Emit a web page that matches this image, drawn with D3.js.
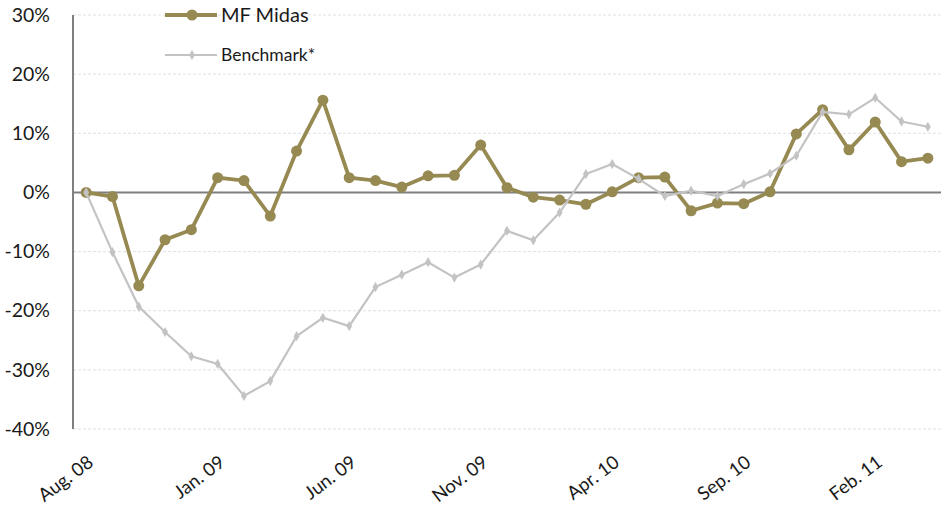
<!DOCTYPE html>
<html>
<head>
<meta charset="utf-8">
<script src="https://cdn.jsdelivr.net/npm/d3@7"></script>
<style>
  body { margin: 0; background: #fff; }
  svg { display: block; font-family: Lato, "Open Sans", sans-serif; }
</style>
</head>
<body>
<div id="chart"></div>
<script>
// monthly categories Aug 08 .. Apr 11
var months = ["Aug. 08","Sep. 08","Oct. 08","Nov. 08","Dec. 08",
  "Jan. 09","Feb. 09","Mar. 09","Apr. 09","May. 09","Jun. 09","Jul. 09","Aug. 09","Sep. 09","Oct. 09","Nov. 09","Dec. 09",
  "Jan. 10","Feb. 10","Mar. 10","Apr. 10","May. 10","Jun. 10","Jul. 10","Aug. 10","Sep. 10","Oct. 10","Nov. 10","Dec. 10",
  "Jan. 11","Feb. 11","Mar. 11","Apr. 11"];

// labels shown on the x axis
var tickLabels = ["Aug. 08","Jan. 09","Jun. 09","Nov. 09","Apr. 10","Sep. 10","Feb. 11"];

// cumulative performance, in %
var midas = [0, -0.7, -15.8, -8.0, -6.3, 2.5, 2.0, -4.0, 7.0, 15.6, 2.5, 2.0, 0.9, 2.8, 2.9, 8.0, 0.8,
  -0.8, -1.3, -2.0, 0.1, 2.5, 2.6, -3.1, -1.8, -1.9, 0.1, 9.9, 14.0, 7.2, 11.9, 5.2, 5.8];

var benchmark = [0, -10.1, -19.3, -23.6, -27.7, -29.0, -34.4, -31.9, -24.3, -21.2, -22.6, -16.0, -13.9, -11.8, -14.4, -12.2, -6.5,
  -8.1, -3.4, 3.1, 4.8, 2.3, -0.6, 0.3, -0.6, 1.4, 3.2, 6.2, 13.6, 13.2, 16.0, 12.0, 11.1];

var yTicks = [-40, -30, -20, -10, 0, 10, 20, 30];

var width = 941, height = 508;
var margin = {top: 15, right: 0, bottom: 79, left: 73};

var svg = d3.select("#chart").append("svg")
  .attr("width", width)
  .attr("height", height);

var x = d3.scaleBand()
  .domain(months)
  .range([margin.left, width - margin.right]);

var y = d3.scaleLinear()
  .domain([-40, 30])
  .range([height - margin.bottom, margin.top]);

function cx(d, i) { return x(months[i]) + x.bandwidth() / 2; }

// gridlines
svg.append("g")
  .selectAll("line")
  .data(yTicks)
  .enter().append("line")
  .attr("x1", margin.left)
  .attr("x2", width - margin.right)
  .attr("y1", function(d) { return y(d); })
  .attr("y2", function(d) { return y(d); })
  .attr("stroke", "#e0e0e0")
  .attr("stroke-dasharray", "3,2")
  .attr("stroke-width", 1);

// y axis labels
var yAxis = d3.axisLeft(y)
  .tickValues(yTicks)
  .tickSize(0)
  .tickPadding(23)
  .tickFormat(function(d) { return d + "%"; });

svg.append("g")
  .attr("transform", "translate(" + margin.left + ",0)")
  .call(yAxis)
  .call(function(g) {
    g.select(".domain").remove();
    g.selectAll("text")
      .attr("font-size", "19.5px")
      .attr("fill", "#1a1a1a")
      .attr("font-family", "Lato, 'Open Sans', sans-serif");
  });

// vertical axis line
svg.append("line")
  .attr("x1", margin.left).attr("x2", margin.left)
  .attr("y1", y(30)).attr("y2", y(-40))
  .attr("stroke", "#7f7f7f")
  .attr("stroke-width", 2);

// zero line
svg.append("line")
  .attr("x1", margin.left).attr("x2", width - margin.right)
  .attr("y1", y(0)).attr("y2", y(0))
  .attr("stroke", "#7f7f7f")
  .attr("stroke-width", 2);

// x axis labels (rotated)
var xAxis = d3.axisBottom(x)
  .tickValues(tickLabels)
  .tickSize(0)
  .tickPadding(0);

svg.append("g")
  .attr("transform", "translate(0," + (y(-40) + 34) + ")")
  .call(xAxis)
  .call(function(g) {
    g.select(".domain").remove();
    g.selectAll("text")
      .attr("font-size", "18.5px")
      .attr("fill", "#1a1a1a")
      .attr("font-family", "Lato, 'Open Sans', sans-serif")
      .attr("text-anchor", "end")
      .attr("dx", "0.3em")
      .attr("dy", "0.35em")
      .attr("transform", "rotate(-37)");
  });

var line = d3.line()
  .x(cx)
  .y(function(d) { return y(d); });

var gold = "#968a52", grey = "#c3c3c3";

// MF Midas
svg.append("path")
  .datum(midas)
  .attr("d", line)
  .attr("fill", "none")
  .attr("stroke", gold)
  .attr("stroke-width", 3.8)
  .attr("stroke-linejoin", "round");

svg.append("g")
  .selectAll("circle")
  .data(midas)
  .enter().append("circle")
  .attr("cx", cx)
  .attr("cy", function(d) { return y(d); })
  .attr("r", 5.5)
  .attr("fill", gold);

// Benchmark
svg.append("path")
  .datum(benchmark)
  .attr("d", line)
  .attr("fill", "none")
  .attr("stroke", grey)
  .attr("stroke-width", 2.2);

svg.append("g")
  .selectAll("path")
  .data(benchmark)
  .enter().append("path")
  .attr("d", d3.symbol().type(d3.symbolDiamond).size(30))
  .attr("transform", function(d, i) { return "translate(" + cx(d, i) + "," + y(d) + ")"; })
  .attr("fill", grey);

// legend
var lg = svg.append("g");
lg.append("line")
  .attr("x1", 165).attr("x2", 217).attr("y1", 15).attr("y2", 15)
  .attr("stroke", gold).attr("stroke-width", 3.8);
lg.append("circle")
  .attr("cx", 192).attr("cy", 15).attr("r", 5.5).attr("fill", gold);
lg.append("text")
  .attr("x", 221).attr("y", 15).attr("dy", "0.35em")
  .attr("font-size", "20px").attr("fill", "#1a1a1a")
  .text("MF Midas");

lg.append("line")
  .attr("x1", 165).attr("x2", 217).attr("y1", 55).attr("y2", 55)
  .attr("stroke", grey).attr("stroke-width", 2.2);
lg.append("path")
  .attr("d", d3.symbol().type(d3.symbolDiamond).size(30))
  .attr("transform", "translate(192,55)")
  .attr("fill", grey);
lg.append("text")
  .attr("x", 221).attr("y", 55).attr("dy", "0.35em")
  .attr("font-size", "17.5px").attr("fill", "#1a1a1a")
  .text("Benchmark*");
</script>
</body>
</html>
